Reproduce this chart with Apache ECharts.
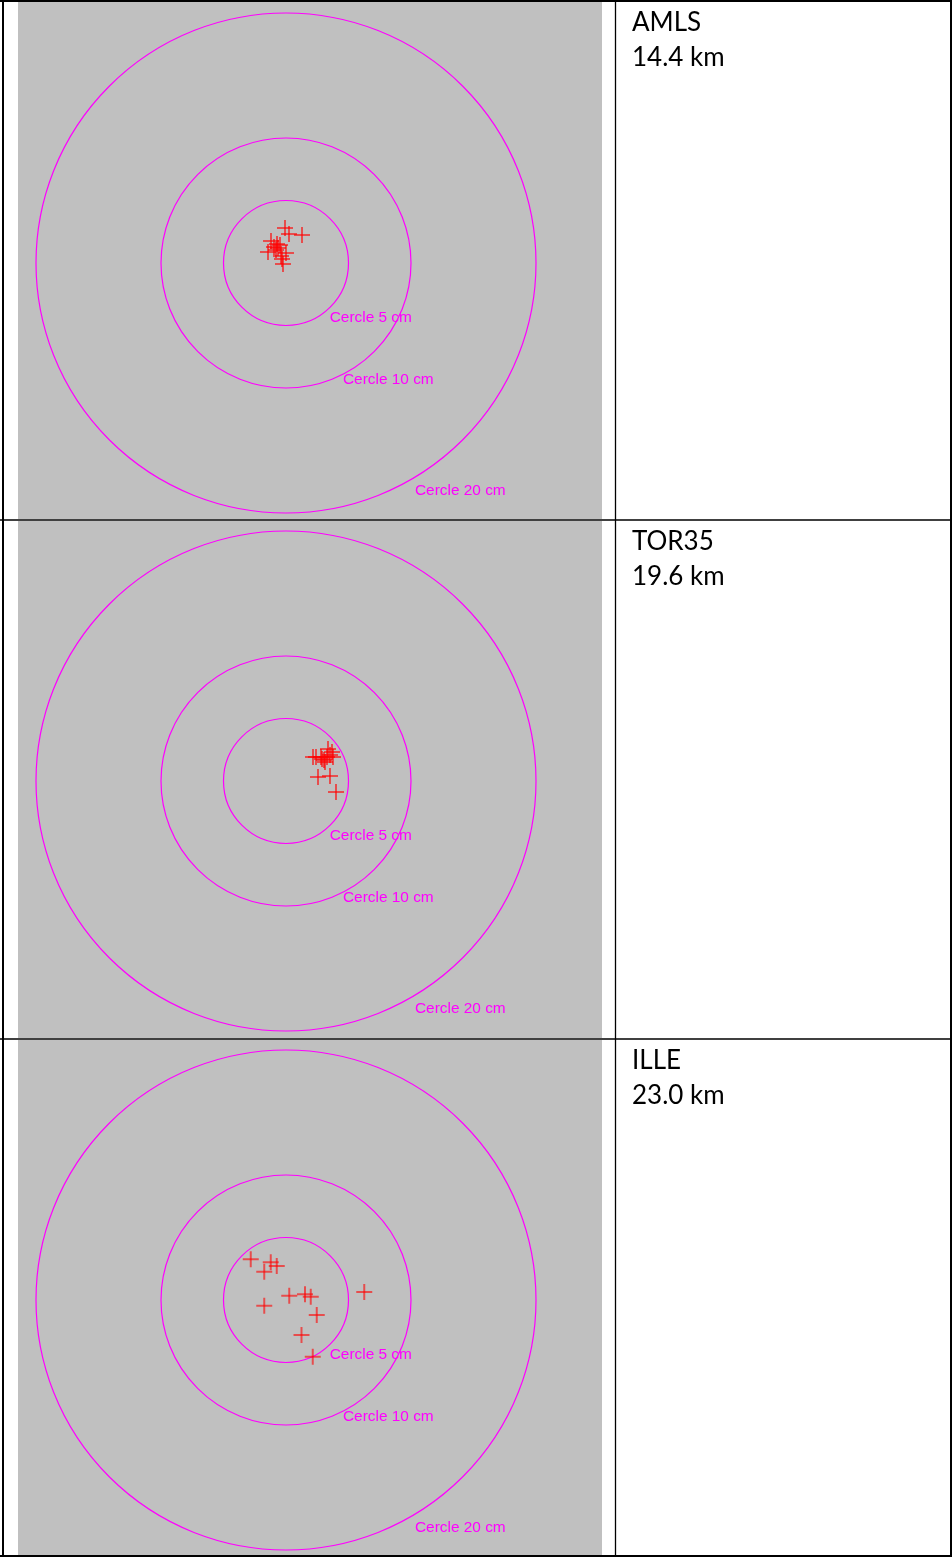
<!DOCTYPE html>
<html><head><meta charset="utf-8">
<script src="https://cdn.jsdelivr.net/npm/echarts@6/dist/echarts.min.js"></script>
<style>html,body{margin:0;padding:0;background:#fff}#c{width:952px;height:1557px}</style>
</head><body><div id="c"></div>
<script>
// ---- data ----
const stations = ['AMLS', 'TOR35', 'ILLE'];
const distances = ['14.4 km', '19.6 km', '23.0 km'];
const circleRadii = [5, 10, 20];             // cm
const circleLabels = ['Cercle 5 cm', 'Cercle 10 cm', 'Cercle 20 cm'];

// positions (cm) East / North offsets
const amlsE = [-0.08, 0.24, 1.28, -1.20, -0.72, -0.96, -0.64, -1.44, 0.00, -0.40, -0.32, -0.24, -0.80, -0.48];
const amlsN = [2.80, 2.32, 2.24, 1.76, 1.52, 1.28, 1.20, 0.88, 0.80, 0.56, 0.32, -0.08, 1.04, 1.44];
const tor35E = [2.16, 2.40, 2.80, 3.04, 3.36, 3.68, 3.12, 2.88, 3.52, 2.56, 3.52, 4.00, 3.28, 3.76];
const tor35N = [1.92, 1.92, 1.92, 1.68, 2.56, 2.32, 1.52, 1.76, 2.08, 0.32, 0.40, -0.88, 1.92, 1.92];
const illeE = [-2.82, -1.22, -0.74, -1.74, 0.26, 1.52, 1.98, -1.74, 2.46, 1.24, 2.14, 6.26];
const illeN = [3.26, 3.02, 2.72, 2.26, 0.34, 0.46, 0.26, -0.46, -1.20, -2.80, -4.54, 0.64];

const seriesE = [amlsE, tor35E, illeE];
const seriesN = [amlsN, tor35N, illeN];

// ---- layout / style ----
const W = 952, H = 1557;
const centersY = [263, 781, 1300];
const R_PX = 250;           // 20 cm radius in px
const labelAnchors = [[3.5, -4.36], [4.56, -9.32], [10.32, -18.2]]; // cm
const panelTops = [2, 521, 1040];
const panelBottoms = [519, 1038, 1555];
const MAG = '#ff00ff';
const CROSS = 'rgba(255,0,0,0.6)';

const chart = echarts.init(document.getElementById('c'), null, {renderer: 'canvas'});

const grids = [], xAxes = [], yAxes = [], series = [], graphics = [];

for (let i = 0; i < 3; i++) {
  grids.push({left: 286 - R_PX, top: centersY[i] - R_PX, width: 2 * R_PX, height: 2 * R_PX, show: false});
  xAxes.push({type: 'value', gridIndex: i, min: -20, max: 20, show: false});
  yAxes.push({type: 'value', gridIndex: i, min: -20, max: 20, show: false});

  // reference circles
  series.push({
    type: 'custom', xAxisIndex: i, yAxisIndex: i, z: 3, silent: true,
    clip: false,
    data: circleRadii.map((r, k) => [0, 0, r, k]),
    renderItem: function (params, api) {
      const r = api.value(2), k = api.value(3);
      const c = api.coord([0, 0]);
      const e = api.coord([r, 0]);
      const rad = e[0] - c[0];
      const lp = api.coord(labelAnchors[k]);
      return {
        type: 'group',
        children: [
          {type: 'circle', shape: {cx: c[0], cy: c[1], r: rad},
           style: {fill: 'none', stroke: MAG, lineWidth: 1.2}},
          {type: 'text', x: lp[0], y: lp[1],
           style: {text: circleLabels[k], fill: MAG, font: '15.4px "Liberation Sans", Arial, sans-serif',
                   align: 'left', verticalAlign: 'middle'}}
        ]
      };
    }
  });

  // crosses
  series.push({
    type: 'custom', xAxisIndex: i, yAxisIndex: i, z: 5, silent: true, clip: false,
    data: seriesE[i].map((e, k) => [e, seriesN[i][k]]),
    renderItem: function (params, api) {
      const p = api.coord([api.value(0), api.value(1)]);
      const h = 8;
      return {
        type: 'group',
        children: [
          {type: 'line', shape: {x1: p[0] - h, y1: p[1], x2: p[0] + h, y2: p[1]},
           style: {stroke: CROSS, lineWidth: 2}},
          {type: 'line', shape: {x1: p[0], y1: p[1] - h, x2: p[0], y2: p[1] + h},
           style: {stroke: CROSS, lineWidth: 2}}
        ]
      };
    }
  });

  // gray panel
  graphics.push({type: 'rect', z: -10, silent: true,
    shape: {x: 18, y: panelTops[i], width: 584, height: panelBottoms[i] - panelTops[i]},
    style: {fill: '#c0c0c0'}});

  // right column text
  const ty = panelTops[i] === 2 ? 0 : panelTops[i] - 2;
  graphics.push({type: 'text', z: 50, silent: true, x: 632, y: ty + 23,
    style: {text: stations[i], fill: '#000', font: '26px Lato, sans-serif', verticalAlign: 'middle'}});
  graphics.push({type: 'text', z: 50, silent: true, x: 632, y: ty + 58,
    style: {text: distances[i], fill: '#000', font: '26px Lato, sans-serif', verticalAlign: 'middle'}});
}

// table borders
const lines = [
  [0, 1, W, 1, 2],           // top
  [3, 0, 3, H, 2],           // left
  [W - 1, 0, W - 1, H, 2],   // right
  [0, H - 1, W, H - 1, 2],   // bottom
  [615.5, 0, 615.5, H, 1.3], // inner vertical
  [0, 520, W, 520, 1.3],     // row 1/2
  [0, 1039, W, 1039, 1.3]    // row 2/3
];
lines.forEach(l => graphics.push({type: 'line', z: 100, silent: true,
  shape: {x1: l[0], y1: l[1], x2: l[2], y2: l[3]}, style: {stroke: '#000', lineWidth: l[4]}}));

chart.setOption({
  animation: false,
  backgroundColor: '#ffffff',
  grid: grids, xAxis: xAxes, yAxis: yAxes, series: series,
  graphic: {elements: graphics}
});
</script></body></html>
